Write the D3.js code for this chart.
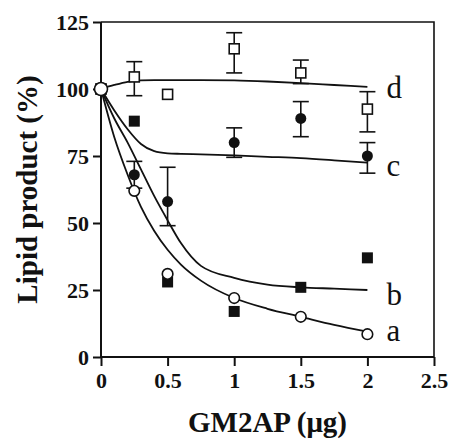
<!DOCTYPE html>
<html><head><meta charset="utf-8">
<script src="https://cdn.jsdelivr.net/npm/d3@7"></script>
<style>body{margin:0;background:#fff}svg{display:block}</style>
</head><body>
<script>
// ---- data ----
const doses = [0, 0.25, 0.5, 1, 1.5, 2];
const seriesA = [100, 62, 31, 22, 15, 8.5];      // open circles
const seriesB = [100, 88, 28, 17, 26, 37];       // filled squares
const seriesC = [100, 68, 58, 80, 89, 75];       // filled circles
const seriesD = [100, 104.5, 98, 115, 106, 92.5];// open squares
const cErrLo = [null, 63, 49, 74.5, 82.2, 68.6];
const cErrHi = [null, 73, 70.8, 85.5, 95.3, 80];
const dErrLo = [null, 97.5, null, 106, 102, 84];
const dErrHi = [null, 110.2, null, 121, 110.8, 99];
const fitX = [0, 0.1, 0.2, 0.3, 0.4, 0.5, 0.6, 0.75, 1, 1.25, 1.5, 1.75, 2];
const fitA = [100, 82, 68, 56, 47, 40, 34.5, 28.5, 22, 18, 15, 12, 9.5];
const fitB = [100, 89, 80, 70, 60, 51, 42.5, 34, 29.5, 27, 26, 25.5, 25];
const fitC = [100, 92, 85, 79.5, 76.8, 76, 75.8, 75.6, 75.2, 74.7, 74.2, 73.4, 72.5];
const fitD = [100, 101.5, 102.7, 103.2, 103.3, 103.3, 103.3, 103.3, 103.2, 102.8, 102.2, 101.5, 100.8];
const curveLabels = ["a", "b", "c", "d"];
const xTicks = [0, 0.5, 1, 1.5, 2, 2.5];
const xTickLabels = ["0", "0.5", "1", "1.5", "2", "2.5"];
const yTicks = [0, 25, 50, 75, 100, 125];
const yTickLabels = ["0", "25", "50", "75", "100", "125"];
const xTitle = "GM2AP (μg)";
const yTitle = "Lipid product (%)";

// ---- layout ----
const W = 452, H = 441;
const L = 101, R = 434, T = 22, B = 357;
const serif = "'Liberation Serif','Times New Roman',Times,serif";

const svg = d3.select("body").append("svg").attr("width", W).attr("height", H);
const x = d3.scaleLinear().domain([0, 2.5]).range([L, R]);
const y = d3.scaleLinear().domain([0, 125]).range([B, T]);

// frame top/right
svg.append("path").attr("d", `M${L},${T}H${R}V${B}`).attr("fill", "none")
  .attr("stroke", "#111").attr("stroke-width", 1.6);

// axes
const yAxis = d3.axisLeft(y).tickValues(yTicks).tickFormat((d, i) => yTickLabels[i]).tickSize(8).tickPadding(4);
const xAxis = d3.axisBottom(x).tickValues(xTicks).tickFormat((d, i) => xTickLabels[i]).tickSize(9).tickPadding(6);
const gy = svg.append("g").attr("transform", `translate(${L},0)`).call(yAxis);
const gx = svg.append("g").attr("transform", `translate(0,${B})`).call(xAxis);
[gx, gy].forEach(g => {
  g.select(".domain").attr("stroke", "#111").attr("stroke-width", 2);
  g.selectAll(".tick line").attr("stroke", "#111").attr("stroke-width", 2);
  g.selectAll(".tick text").attr("fill", "#111").attr("font-family", serif)
    .attr("font-weight", "bold").attr("font-size", 22);
});
gy.select(".domain").attr("d", `M0,${B}V${T}`);
gx.select(".domain").attr("d", `M${L},0H${R}`);

// titles
svg.append("text").attr("x", (L + R) / 2).attr("y", 432).attr("text-anchor", "middle")
  .attr("font-family", serif).attr("font-weight", "bold").attr("font-size", 29).attr("fill", "#111").text(xTitle);
svg.append("text").attr("transform", `translate(37,${(T + B) / 2}) rotate(-90)`).attr("text-anchor", "middle")
  .attr("font-family", serif).attr("font-weight", "bold").attr("font-size", 29).attr("fill", "#111").text(yTitle);

// fitted curves
const line = d3.line().x(d => x(d[0])).y(d => y(d[1])).curve(d3.curveMonotoneX);
[fitA, fitB, fitC, fitD].forEach(f => {
  svg.append("path").datum(fitX.map((v, i) => [v, f[i]])).attr("d", line)
    .attr("fill", "none").attr("stroke", "#111").attr("stroke-width", 1.8);
});

// error bars
function errBars(lo, hi) {
  doses.forEach((d, i) => {
    if (lo[i] == null) return;
    const g = svg.append("g").attr("stroke", "#111").attr("stroke-width", 1.6);
    g.append("line").attr("x1", x(d)).attr("x2", x(d)).attr("y1", y(lo[i])).attr("y2", y(hi[i]));
    g.append("line").attr("x1", x(d) - 8).attr("x2", x(d) + 8).attr("y1", y(lo[i])).attr("y2", y(lo[i]));
    g.append("line").attr("x1", x(d) - 8).attr("x2", x(d) + 8).attr("y1", y(hi[i])).attr("y2", y(hi[i]));
  });
}
errBars(dErrLo, dErrHi);
errBars(cErrLo, cErrHi);

// markers
svg.append("g").selectAll("rect").data(doses.map((d, i) => [d, seriesD[i]])).join("rect")
  .attr("x", d => x(d[0]) - 5).attr("y", d => y(d[1]) - 5).attr("width", 10).attr("height", 10)
  .attr("fill", "#fff").attr("stroke", "#111").attr("stroke-width", 1.6);
svg.append("g").selectAll("circle").data(doses.map((d, i) => [d, seriesC[i]])).join("circle")
  .attr("cx", d => x(d[0])).attr("cy", d => y(d[1])).attr("r", 5.5).attr("fill", "#111");
svg.append("g").selectAll("rect").data(doses.map((d, i) => [d, seriesB[i]])).join("rect")
  .attr("x", d => x(d[0]) - 5.5).attr("y", d => y(d[1]) - 5.5).attr("width", 11).attr("height", 11)
  .attr("fill", "#111");
svg.append("g").selectAll("circle").data(doses.map((d, i) => [d, seriesA[i]])).join("circle")
  .attr("cx", d => x(d[0])).attr("cy", d => y(d[1])).attr("r", (d, i) => i === 0 ? 6.5 : 5.3)
  .attr("fill", "#fff").attr("stroke", "#111").attr("stroke-width", 1.6);

// curve labels
const lastFits = [fitA, fitB, fitC, fitD];
curveLabels.forEach((t, i) => {
  const f = lastFits[i];
  svg.append("text").attr("x", x(2) + 19).attr("y", y(f[f.length - 1]) + [9, 15, 13, 11][i])
    .attr("font-family", serif).attr("font-size", 31).attr("fill", "#111").text(t);
});
</script>
</body></html>
